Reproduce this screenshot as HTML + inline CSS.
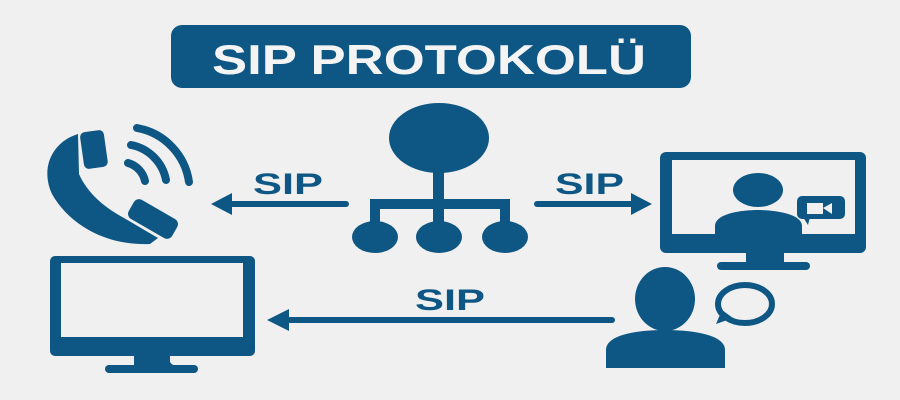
<!DOCTYPE html>
<html><head><meta charset="utf-8"><style>
html,body{margin:0;padding:0;background:#f0f0f0;}
svg{display:block;}
</style></head><body>
<svg width="900" height="400" viewBox="0 0 900 400" xmlns="http://www.w3.org/2000/svg">
<rect width="900" height="400" fill="#f0f0f0"/>
<g fill="#0e5784" stroke="none">
<!-- title -->
<rect x="171" y="25" width="520" height="63" rx="11"/>
<text x="429" y="74" text-anchor="middle" font-family="Liberation Sans, sans-serif" font-weight="bold" font-size="42" fill="#f4f4f4" textLength="434" lengthAdjust="spacingAndGlyphs">SIP PROTOKOLÜ</text>

<!-- hub -->
<ellipse cx="439" cy="138" rx="50" ry="35"/>
<rect x="433" y="168" width="11" height="60"/>
<rect x="370" y="199" width="140" height="10"/>
<rect x="370" y="199" width="10" height="30"/>
<rect x="500" y="199" width="10" height="30"/>
<ellipse cx="375" cy="237" rx="23" ry="16"/>
<ellipse cx="439" cy="237" rx="23" ry="16"/>
<ellipse cx="505" cy="237" rx="23" ry="16"/>

<!-- arrows -->
<line x1="346" y1="204" x2="225" y2="204" stroke="#0e5784" stroke-width="6" stroke-linecap="round"/>
<polygon points="211,204 232,193 232,215"/>
<line x1="537" y1="204" x2="640" y2="204" stroke="#0e5784" stroke-width="6" stroke-linecap="round"/>
<polygon points="652,204 631,193 631,215"/>
<line x1="612" y1="320" x2="280" y2="320" stroke="#0e5784" stroke-width="6" stroke-linecap="round"/>
<polygon points="267,320 289,309 289,331"/>
<g font-family="Liberation Sans, sans-serif" font-weight="bold" font-size="30">
<text x="253" y="194" textLength="70" lengthAdjust="spacingAndGlyphs">SIP</text>
<text x="555" y="194" textLength="69" lengthAdjust="spacingAndGlyphs">SIP</text>
<text x="415" y="310" textLength="70" lengthAdjust="spacingAndGlyphs">SIP</text>
</g>

<!-- phone -->
<path d="M78 134 C52 142 40 168 52 194 C70 226 108 246 150 244 L158 238 L124 218 C100 205 86 190 79 174 Z"/>
<rect x="82" y="131" width="24" height="37" rx="5" transform="rotate(-8 94 150)"/>
<rect x="128" y="208" width="50" height="22" rx="6" transform="rotate(30 153 219)"/>
<g fill="none" stroke="#0e5784" stroke-width="8" stroke-linecap="round">
<path d="M128 163 A24 24 0 0 1 145 181"/>
<path d="M131 145 A44 44 0 0 1 166 180"/>
<path d="M137 128 A64 64 0 0 1 189 182"/>
</g>

<!-- left monitor -->
<rect x="50" y="256" width="205" height="100" rx="5"/>
<rect x="61" y="263" width="182" height="74" fill="#f0f0f0"/>
<path d="M136 354 L168 354 C168 362 172 366 178 366 L136 366 C132 366 136 362 136 354 Z"/>
<rect x="134" y="352" width="36" height="16"/>
<rect x="105" y="365" width="93" height="8" rx="4"/>

<!-- right monitor -->
<rect x="660" y="152" width="206" height="101" rx="6"/>
<rect x="672" y="160" width="183" height="74" fill="#f0f0f0"/>
<ellipse cx="758" cy="190" rx="25" ry="17"/>
<path d="M715 234 L715 226 C715 214 740 210 758 210 C776 210 802 214 802 226 L802 234 Z"/>
<rect x="746" y="250" width="38" height="14"/>
<rect x="717" y="262" width="93" height="8" rx="4"/>
<rect x="797" y="196" width="48" height="23" rx="5"/>
<polygon points="803,217 810,217 808,225"/>
<rect x="807" y="203" width="16" height="11" fill="#f0f0f0"/>
<polygon points="823,208 832,203 832,214" fill="#f0f0f0"/>

<!-- bottom person -->
<ellipse cx="665" cy="299" rx="30" ry="32"/>
<path d="M606 368 L606 350 C606 334 640 330 665 330 C690 330 725 334 725 350 L725 368 Z"/>
<ellipse cx="745" cy="304" rx="27" ry="19" fill="none" stroke="#0e5784" stroke-width="6"/>
<polygon points="722,310 733,318 716,324"/>
</g>
</svg>
</body></html>
